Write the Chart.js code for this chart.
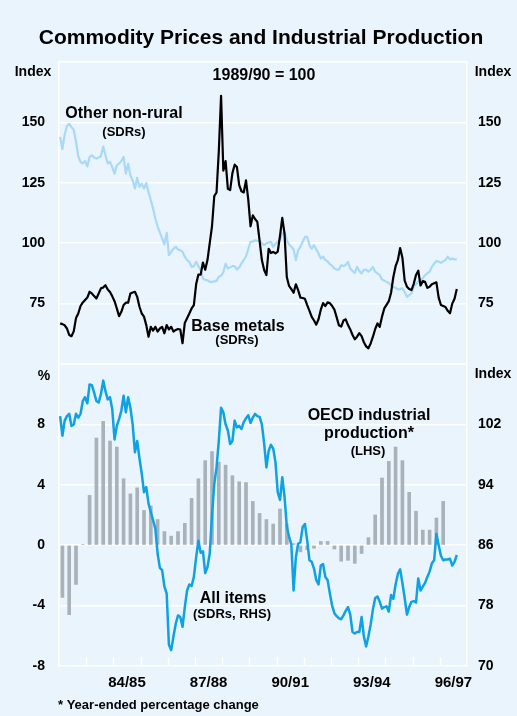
<!DOCTYPE html>
<html>
<head>
<meta charset="utf-8">
<title>Commodity Prices and Industrial Production</title>
<script src="https://cdn.jsdelivr.net/npm/chart.js@4.4.1/dist/chart.umd.min.js"></script>
<style>
  html, body { margin: 0; padding: 0; background: #e9f4fd; }
  #wrap { width: 517px; height: 716px; }
</style>
</head>
<body>
<div id="wrap"><canvas id="myChart" width="517" height="716"></canvas></div>
<script>
/* financial years on the x axis, Jul 1982 - Jun 1997 */
var fyYears = ['82/83','83/84','84/85','85/86','86/87','87/88','88/89','89/90',
               '90/91','91/92','92/93','93/94','94/95','95/96','96/97'];
var fyLabels = ['84/85','87/88','90/91','93/94','96/97'];

/* tick labels shown on each axis */
var topTicks = [75, 100, 125, 150];
var pctTicks = [-8, -4, 0, 4, 8];
var idxTicks = [70, 78, 86, 94, 102];

/* monthly, from Jul 1982 (index 1989/90 = 100, SDRs) */
var otherNonRural = [
  144,139,145,148.5,149.4,148,147,142,136,133.6,133,134,
  131.8,135.7,136.4,135.5,135,135.5,136,140,136.4,133,133.6,131.5,
  128.8,132.2,133,134,135.7,128.8,132.9,128.1,126,122.6,127.1,123.3,
  124.6,122.6,124.9,121.2,117.8,114.3,110.2,107,104.5,102,99.5,104.3,
  95.1,96.4,97.8,98.5,97.4,97.1,96.4,94.4,93,92.3,90.2,90.5,
  92.3,90.5,88.9,85.4,84.8,84.7,84,84,84.2,84.4,86.1,86.5,
  88,91.5,89.5,90,90.5,90.5,89.1,90,91.6,93,94.5,97.5,
  100.6,100.6,101.2,101,101,100,99.2,100,100.3,100.6,98.5,99.8,
  100.5,101.5,104,104.7,101.2,99.5,98.5,97.4,93,97.1,98.5,100.6,
  102.6,102.6,99.2,97.8,99.2,97.5,95.7,93.7,94.4,93,92.5,91.3,
  90.6,89.5,89.1,89.1,90.9,90.5,91,92.3,89.5,88.5,87.7,90.2,
  88.5,87.5,89,89.1,88.2,89,90.2,88.2,87.5,86.8,85,84.5,
  84,83.5,82.6,82,81.5,80.9,81,81.3,79.9,77.8,78.5,79.2,
  82,83,84,84.7,85.4,86.8,87.5,88.2,90.2,91.5,92.7,92.3,
  91.9,92.5,93,94.4,93.3,93.7,93.3,93.3
];
var baseMetals = [
  66.8,66.5,66,64.7,62,61.5,63.5,69,70.9,74,75.5,76.5,
  77.5,79.9,79.2,78.1,77.1,79.2,81.3,81.7,82.6,80.8,79.8,78,
  76,73,69.8,71.6,74.4,75.4,75.4,79.2,79.6,79.9,77.8,73.7,
  70.9,69.6,66.1,61.3,65.4,63.8,65.4,63.4,64.7,65.4,62.7,66.1,
  64.3,65.4,63.4,64.1,64.5,64.3,58.6,67,68.9,70.9,73,74.4,
  83,87,87,92,89,93,100,107,119.5,121,138,161,
  130,134,122.5,122,129,132.5,131.5,124,121.5,121,126,118,
  107,111.5,110,108.8,101,93,88.9,86.8,97.7,96,96.4,95.8,
  96.5,103,110.5,104,86,82.3,81,79.5,83,80.6,77.5,77.3,
  77,74.4,72,69.5,68,66.3,68.5,72.5,75.2,74,75.5,75.2,
  74,72.5,69.3,66,65.5,68,68.5,66.1,64.3,62,60.2,61.3,
  62.8,61.5,59,57.3,56.5,58.5,61.3,64.5,66.8,65.4,69.6,73,
  74.5,76,79.5,86,90.5,93,98,94,84.5,82,81,80.6,
  83.2,86.8,88.6,82.5,84.3,84,81.5,82,83,83.4,83.8,77.5,
  74.4,74,73.6,72,71,75,77,81
];
var allItems = [
  103.1,100.5,102.5,103.1,103.4,101.8,102,103.4,102.9,103.4,105.1,105.6,
  104.8,107.3,107.2,106.2,105.1,104.9,106,107.8,106.4,105.3,105.6,104,
  100,101.8,102.7,103.8,105.8,103.6,105.6,104.2,102,98.3,99.8,97.5,
  95.5,93,93.7,91.5,90.4,89.3,88.2,84.9,83,82.7,80.5,79.6,
  72.8,72.1,73.9,75.6,76.7,76.5,75.2,77.8,80,80.8,80.6,81.8,
  84.4,86.6,85,85.2,82.3,83.1,84.9,90,94.1,96.3,99.8,104.2,
  103.6,102,101.2,99.4,99.8,102.5,101.6,101.8,101.4,102.3,102.8,103.2,
  102.2,102.9,103.4,103.1,103,102,99.5,96.3,98.5,99.3,98.8,97,
  93,92,95,92.4,88.5,87.1,86.1,80,84.4,86.2,86.4,88.4,
  88.8,86.6,84,83.8,82.9,81.4,80.8,83.3,83.5,81.8,81.4,79.6,
  78,77,76.6,76.3,76.2,76.7,77.3,77.8,76.8,74.5,74.3,74.5,
  74.5,76.5,73.9,72.6,73.9,75.5,77.5,79,79.2,78.5,77.6,77.8,
  77.9,77.2,79.4,78.9,80.8,82.2,82.8,81,79,76.8,77.8,78.5,
  78.6,78.4,81.6,80,80.5,81,81.8,82.5,83.6,84,87.5,86,
  84.6,84,84.1,84.1,84.2,83.3,83.8,84.7
];

/* quarterly, year-ended % change, from Sep qtr 1982 */
var oecdProduction = [
  -3.46,-4.6,-2.6,0.05,3.3,7.1,8.2,6.9,6.5,4.4,
  3.4,3.8,2.3,2.6,1.7,0.9,0.6,0.9,1.45,3.1,
  4.4,5.6,6.2,5.5,5.3,4.6,4.2,4.15,2.9,2.1,
  1.7,1.4,2.4,1.4,0.1,-0.44,-0.3,-0.2,0.25,0.25,
  -0.25,-1.06,-1.0,-1.2,-0.55,0.5,2.0,4.45,5.55,6.5,
  5.6,3.5,2.25,1.0,1.0,1.8,2.9
];

var FONT = "'Liberation Sans', Arial, Helvetica, sans-serif";
Chart.defaults.font.family = FONT;
Chart.defaults.font.weight = 'bold';
Chart.defaults.color = '#000';

function monthly(arr) {
  return arr.map(function (v, i) { return {x: (i + 0.5) / 12, y: v}; });
}
function quarterly(arr) {
  return arr.map(function (v, i) { return {x: (i + 0.5) / 4, y: v}; });
}
function fixWidth(w) {
  return function (scale) { scale.width = w; };
}
function pick(list) {
  return function (v) { return list.indexOf(v) >= 0 ? String(v) : ''; };
}

var tickFont = {size: 14, weight: 'bold'};

/* texts and x tick marks */
var decor = {
  id: 'decor',
  beforeDatasetsDraw: function (chart) {
    var ctx = chart.ctx, a = chart.chartArea, xs = chart.scales.x;
    ctx.save();
    ctx.strokeStyle = '#fff';
    ctx.lineWidth = 1.5;
    for (var i = 1; i < fyYears.length; i++) {
      var px = Math.round(xs.getPixelForValue(i)) + 0.5;
      ctx.beginPath();
      ctx.moveTo(px, a.bottom);
      ctx.lineTo(px, a.bottom - 9);
      ctx.stroke();
    }
    ctx.restore();
  },
  afterDraw: function (chart) {
    var ctx = chart.ctx;
    var notes = [
      ['Commodity Prices and Industrial Production', 261, 38, 21],
      ['Index', 33, 72, 14],
      ['Index', 493, 72, 14],
      ['1989/90 = 100', 264, 76, 16],
      ['Other non-rural', 124, 114, 16],
      ['(SDRs)', 124, 132, 13],
      ['Base metals', 238, 327, 16],
      ['(SDRs)', 237, 340, 13],
      ['%', 44, 376, 14],
      ['Index', 493, 374, 14],
      ['OECD industrial', 369, 416, 16],
      ['production*', 369, 434, 16],
      ['(LHS)', 368, 451, 13],
      ['All items', 233, 599, 16],
      ['(SDRs, RHS)', 232, 614, 13],
      ['* Year-ended percentage change', 58, 705, 13, 'left']
    ];
    ctx.save();
    ctx.fillStyle = '#000';
    ctx.textBaseline = 'middle';
    notes.forEach(function (n) {
      ctx.font = 'bold ' + n[3] + 'px ' + FONT;
      ctx.textAlign = n[4] || 'center';
      ctx.fillText(n[0], n[1], n[2]);
    });
    ctx.restore();
  }
};

var ctx1 = document.getElementById('myChart').getContext('2d');
window.myChart = new Chart(ctx1, {
  type: 'line',
  data: {
    datasets: [
      {
        label: 'All items (SDRs, RHS)',
        yAxisID: 'yBotR',
        data: monthly(allItems),
        borderColor: '#0ea2e3',
        borderWidth: 2.5,
        borderJoinStyle: 'round',
        pointRadius: 0,
        order: 1
      },
      {
        type: 'bar',
        label: 'OECD industrial production',
        yAxisID: 'yBot',
        data: quarterly(oecdProduction),
        backgroundColor: '#a9b1b9',
        barThickness: 3,
        order: 2
      },
      {
        label: 'Base metals',
        yAxisID: 'yTop',
        data: monthly(baseMetals),
        borderColor: '#000',
        borderWidth: 2.2,
        borderJoinStyle: 'round',
        pointRadius: 0,
        order: 3
      },
      {
        label: 'Other non-rural',
        yAxisID: 'yTop',
        data: monthly(otherNonRural),
        borderColor: '#a8d9f6',
        borderWidth: 2.2,
        borderJoinStyle: 'round',
        pointRadius: 0,
        order: 4
      }
    ]
  },
  options: {
    responsive: false,
    animation: false,
    layout: { padding: {top: 62, left: 0, right: 0, bottom: 0} },
    plugins: {
      legend: { display: false },
      tooltip: { enabled: false },
      title: { display: false }
    },
    scales: {
      x: {
        type: 'linear',
        min: 0,
        max: fyYears.length,
        offset: false,
        grid: { display: false, drawTicks: false },
        border: { display: false },
        afterBuildTicks: function (scale) {
          scale.ticks = fyLabels.map(function (l) { return {value: fyYears.indexOf(l) + 0.5}; });
        },
        afterFit: function (scale) { scale.height = 50; },
        ticks: {
          autoSkip: false,
          maxRotation: 0,
          padding: 8,
          font: {size: 15, weight: 'bold'},
          callback: function (v) { return fyYears[Math.floor(v)]; }
        }
      },
      // left-hand boxes are laid out in reverse, so the lower panel comes first here
      yBot: {
        type: 'linear',
        position: 'left',
        stack: 'panels',
        stackWeight: 1,
        min: -8,
        max: 12,
        afterFit: fixWidth(59),
        grid: { color: '#fff', lineWidth: 1.5, drawTicks: false },
        border: { display: true, color: '#fff', width: 1.5 },
        ticks: { stepSize: 4, padding: 14, font: tickFont, callback: pick(pctTicks) }
      },
      yTop: {
        type: 'linear',
        position: 'left',
        stack: 'panels',
        stackWeight: 1,
        min: 50,
        max: 175,
        afterFit: fixWidth(59),
        grid: { color: '#fff', lineWidth: 1.5, drawTicks: false },
        border: { display: true, color: '#fff', width: 1.5 },
        ticks: { stepSize: 25, padding: 14, font: tickFont, callback: pick(topTicks) }
      },
      yTopR: {
        type: 'linear',
        position: 'right',
        stack: 'panelsR',
        stackWeight: 1,
        min: 50,
        max: 175,
        afterFit: fixWidth(50),
        grid: { display: false, drawTicks: false },
        border: { display: true, color: '#fff', width: 1.5 },
        ticks: { stepSize: 25, padding: 11, font: tickFont, callback: pick(topTicks) }
      },
      yBotR: {
        type: 'linear',
        position: 'right',
        stack: 'panelsR',
        stackWeight: 1,
        min: 70,
        max: 110,
        afterFit: fixWidth(50),
        grid: { display: false, drawTicks: false },
        border: { display: true, color: '#fff', width: 1.5 },
        ticks: { stepSize: 8, padding: 11, font: tickFont, callback: pick(idxTicks) }
      }
    }
  },
  plugins: [decor]
});
</script>
</body>
</html>
